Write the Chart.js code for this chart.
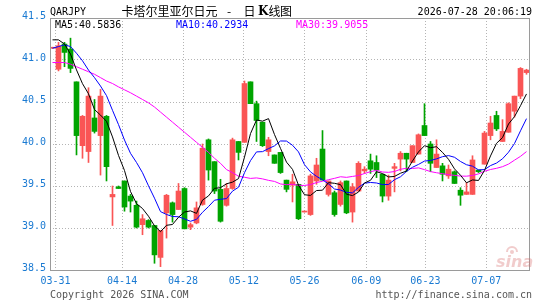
<!DOCTYPE html>
<html>
<head>
<meta charset="utf-8">
<script src="https://cdn.jsdelivr.net/npm/chart.js@4.4.1/dist/chart.umd.min.js"></script>
<style>
  html, body { margin: 0; padding: 0; background: #fff; }
  #wrap { width: 545px; height: 300px; }
</style>
</head>
<body>
<div id="wrap"><canvas id="kline" width="545" height="300"></canvas></div>
<script>
// daily QAR/JPY candles; the first one sits just left of 03-31 and is mostly cut off
const opens = [41.14,
  40.89, 41.19, 41.13, 40.74, 39.98, 39.91, 40.31, 40.10, 40.33, 39.37,
  39.49, 39.56, 39.38, 39.27, 39.04, 39.09, 39.03, 38.65, 39.18, 39.30,
  39.22, 39.47, 39.01, 39.06, 39.28, 40.05, 39.79, 39.46, 39.27, 39.47,
  40.03, 40.02, 40.74, 40.48, 40.26, 39.91, 39.87, 39.90, 39.57, 39.51,
  39.52, 39.19, 39.16, 39.56, 39.94, 39.40, 39.42, 39.28, 39.56, 39.19,
  39.44, 39.68, 39.80, 39.78, 39.64, 39.38, 39.71, 39.82, 39.89, 39.78,
  39.88, 40.22, 40.00, 39.72, 39.74, 39.62, 39.67, 39.45, 39.40, 39.40,
  39.69, 39.76, 40.10, 40.34, 40.03, 40.14, 40.39, 40.57, 40.85];
const highs = [41.15,
  41.21, 41.21, 41.26, 40.74, 40.34, 40.67, 40.53, 40.65, 40.34, 39.50,
  39.50, 39.56, 39.40, 39.32, 39.16, 39.10, 39.03, 38.97, 39.40, 39.31,
  39.53, 39.48, 39.06, 39.31, 40.00, 40.06, 39.79, 39.58, 39.53, 40.07,
  40.03, 40.75, 40.74, 40.51, 40.26, 40.08, 39.87, 39.90, 39.57, 39.64,
  39.52, 39.19, 39.64, 39.83, 40.16, 39.56, 39.44, 39.56, 39.56, 39.53,
  39.79, 39.73, 39.88, 39.86, 39.64, 39.63, 39.77, 39.91, 39.89, 39.98,
  40.12, 40.48, 40.03, 40.05, 39.77, 39.75, 39.68, 39.48, 39.54, 39.86,
  39.69, 40.15, 40.33, 40.39, 40.29, 40.49, 40.57, 40.91, 40.89];
const lows = [41.14,
  40.87, 40.92, 40.85, 39.87, 39.83, 39.78, 40.13, 39.63, 39.56, 39.03,
  39.47, 39.20, 39.19, 39.00, 38.92, 39.00, 38.58, 38.54, 38.88, 39.07,
  39.22, 38.99, 38.98, 39.05, 39.27, 39.57, 39.41, 39.07, 39.26, 39.46,
  39.81, 40.02, 40.48, 40.03, 39.97, 39.86, 39.77, 39.65, 39.43, 39.31,
  39.10, 39.19, 39.15, 39.52, 39.57, 39.38, 39.14, 39.26, 39.17, 39.07,
  39.44, 39.65, 39.65, 39.60, 39.31, 39.33, 39.43, 39.68, 39.67, 39.78,
  39.88, 40.10, 39.67, 39.72, 39.56, 39.59, 39.53, 39.27, 39.40, 39.40,
  39.66, 39.76, 40.05, 40.16, 40.03, 40.14, 40.32, 40.54, 40.83];
const closes = [41.15,
  41.17, 41.09, 40.90, 40.10, 40.33, 40.57, 40.15, 40.57, 39.73, 39.40,
  39.47, 39.25, 39.32, 39.01, 39.11, 39.01, 38.68, 38.97, 39.39, 39.16,
  39.44, 38.99, 39.04, 39.24, 39.95, 39.69, 39.44, 39.08, 39.47, 40.05,
  39.90, 40.72, 40.48, 40.28, 39.98, 40.05, 39.77, 39.66, 39.46, 39.55,
  39.11, 39.20, 39.62, 39.75, 39.57, 39.56, 39.16, 39.54, 39.18, 39.49,
  39.77, 39.70, 39.70, 39.69, 39.38, 39.57, 39.73, 39.89, 39.82, 39.98,
  40.11, 40.10, 39.77, 39.88, 39.64, 39.70, 39.53, 39.39, 39.43, 39.81,
  39.67, 40.13, 40.25, 40.18, 40.15, 40.48, 40.57, 40.90, 40.88];

// moving averages before enough candles are on screen
const ma5Lead = [41.24, 41.24, 41.19, 41.07];
const ma10Lead = [41.14, 41.16, 41.18, 41.16, 41.08, 40.99, 40.88, 40.79, 40.69];
const ma30Lead = [40.97, 40.97, 40.97, 40.95, 40.92, 40.89, 40.86, 40.83, 40.79, 40.75,
  40.72, 40.68, 40.645, 40.61, 40.57, 40.53, 40.49, 40.44, 40.38, 40.32,
  40.26, 40.20, 40.14, 40.08, 40.02, 39.96, 39.90, 39.83, 39.77];

// date ticks, in candle-index units (03-31 candle = 0)
const tickAt = [-0.5, 10.6, 20.75, 30.9, 41.0, 51.3, 61.15, 71.3];
const tickLabels = ['03-31', '04-14', '04-28', '05-12', '05-26', '06-09', '06-23', '07-07'];

const legendText = ['MA5:40.5836', 'MA10:40.2934', 'MA30:39.9055'];

const RED = '#fa5555';
const GREEN = '#00a400';
const AXIS_BLUE = '#1a7ad2';
const MONO = "'DejaVu Sans Mono', monospace";
const CJK = "'Noto Sans CJK SC', sans-serif";

const xs = closes.map((_, k) => k - 1);
const candleColors = closes.map((c, k) => (c >= opens[k] ? RED : GREEN));

function movingAvg(n, lead) {
  return closes.map((_, k) => {
    if (k < lead.length) return { x: xs[k], y: lead[k] };
    let s = 0;
    for (let j = k - n + 1; j <= k; j++) s += closes[j];
    return { x: xs[k], y: s / n };
  });
}

const decor = {
  id: 'decor',
  afterDraw(chart) {
    const { ctx, chartArea: a } = chart;
    ctx.save();
    ctx.strokeStyle = '#9a9a9a';
    ctx.lineWidth = 1;
    ctx.strokeRect(a.left + 0.5, a.top + 0.5, a.right - a.left - 1, a.bottom - a.top);

    ctx.textBaseline = 'middle';
    ctx.font = '10px ' + MONO;
    ctx.fillStyle = '#000';
    ctx.textAlign = 'left';
    ctx.fillText('QARJPY', 50, 12);
    ctx.textAlign = 'right';
    ctx.fillText('2026-07-28 20:06:19', 532, 12);

    // title: 卡塔尔里亚尔日元 - 日K线图, spaced like the original
    ctx.textAlign = 'left';
    ctx.font = '12px ' + CJK;
    ctx.fillText('卡塔尔里亚尔日元', 121.5, 11);
    ctx.textAlign = 'center';
    ctx.fillText('-', 229, 11);
    ctx.textAlign = 'left';
    ctx.fillText('日', 243.5, 11);
    ctx.font = "bold 12px 'DejaVu Serif', serif";
    ctx.fillText('K', 258, 11.5);
    ctx.font = '12px ' + CJK;
    ctx.fillText('线', 268.5, 11);
    ctx.fillText('图', 280, 11);

    ctx.font = '10px ' + MONO;
    ctx.fillStyle = '#000';
    ctx.fillText(legendText[0], 55, 25);
    ctx.fillStyle = '#0000ff';
    ctx.fillText(legendText[1], 176, 25);
    ctx.fillStyle = '#ff00ff';
    ctx.fillText(legendText[2], 296, 25);

    ctx.fillStyle = '#555';
    ctx.fillText('Copyright 2026 SINA.COM', 50, 295);
    ctx.textAlign = 'right';
    ctx.fillText('http://finance.sina.com.cn', 532, 295);

    // faint sina watermark
    ctx.fillStyle = 'rgba(215, 110, 110, 0.35)';
    ctx.strokeStyle = 'rgba(215, 110, 110, 0.35)';
    ctx.font = "italic bold 16px 'DejaVu Sans', sans-serif";
    ctx.textAlign = 'left';
    ctx.textBaseline = 'alphabetic';
    ctx.fillText('sina', 496, 267);
    ctx.lineWidth = 2;
    ctx.beginPath();
    ctx.arc(512, 252, 5, Math.PI, 2 * Math.PI);
    ctx.stroke();
    ctx.beginPath();
    ctx.arc(512, 252, 2, 0, 2 * Math.PI);
    ctx.fill();
    ctx.restore();
  }
};

new Chart(document.getElementById('kline'), {
  type: 'bar',
  data: {
    datasets: [
      { type: 'line', data: movingAvg(5, ma5Lead), borderColor: '#000', borderWidth: 1, pointRadius: 0, tension: 0 },
      { type: 'line', data: movingAvg(10, ma10Lead), borderColor: '#0000ff', borderWidth: 1, pointRadius: 0, tension: 0 },
      { type: 'line', data: movingAvg(30, ma30Lead), borderColor: '#ff00ff', borderWidth: 1, pointRadius: 0, tension: 0 },
      {
        data: xs.map((x, k) => ({ x, y: [opens[k], closes[k]] })),
        backgroundColor: candleColors, borderWidth: 0,
        barThickness: 5, minBarLength: 1, grouped: false
      },
      {
        data: xs.map((x, k) => ({ x, y: [lows[k], highs[k]] })),
        backgroundColor: candleColors, borderWidth: 0,
        barThickness: 1, minBarLength: 1, grouped: false
      }
    ]
  },
  options: {
    responsive: false,
    animation: false,
    events: [],
    layout: { padding: { top: 18, right: 15, left: 0, bottom: 0 } },
    plugins: { legend: { display: false }, tooltip: { enabled: false } },
    scales: {
      x: {
        type: 'linear',
        min: -17 / 12,
        max: 78 + 7 / 12,
        offset: false,
        afterBuildTicks: axis => { axis.ticks = tickAt.map(v => ({ value: v })); },
        afterFit: axis => { axis.height = 30; },
        ticks: {
          autoSkip: false, maxRotation: 0, padding: 5,
          color: AXIS_BLUE, font: { family: MONO, size: 10 },
          callback: (v, i) => tickLabels[i]
        },
        grid: { offset: false, color: '#b4b4b4', drawTicks: false },
        border: { display: false, dash: [1, 2] }
      },
      y: {
        min: 38.5,
        max: 41.5,
        afterFit: axis => { axis.width = 50; },
        ticks: {
          stepSize: 0.5, padding: 4, labelOffset: -2,
          color: AXIS_BLUE, font: { family: MONO, size: 10 },
          callback: v => v.toFixed(1)
        },
        grid: { color: '#b4b4b4', drawTicks: false },
        border: { display: false, dash: [1, 2] }
      }
    }
  },
  plugins: [decor]
});
</script>
</body>
</html>
